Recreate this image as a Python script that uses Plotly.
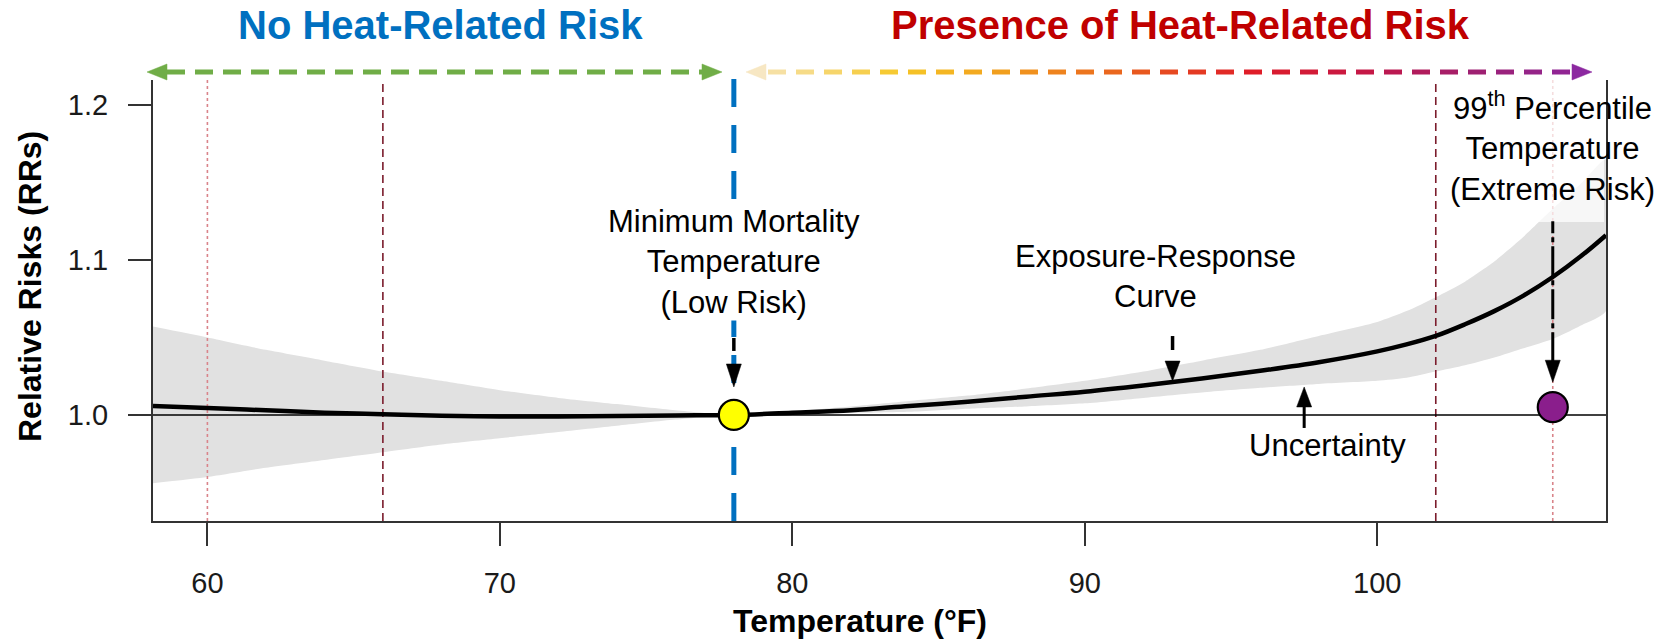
import plotly.graph_objects as go
import numpy as np

# ---------------- data ----------------
temperature = [58.14, 60, 62, 64, 66, 68, 70, 72, 74, 76, 78, 80, 82, 84, 86, 88, 90, 92, 94, 96,
               98, 100, 101, 102, 103, 104, 105, 106, 107, 107.82]
rr = [1.0058, 1.0045, 1.003, 1.0015, 1.0005, 0.9995, 0.999, 0.999, 0.9993, 0.9997, 1.0, 1.0015,
      1.003, 1.0058, 1.0085, 1.0118, 1.015, 1.019, 1.0235, 1.0285, 1.034, 1.041, 1.0455, 1.051,
      1.0585, 1.067, 1.077, 1.089, 1.103, 1.116]
rr_low = [0.956, 0.960, 0.966, 0.971, 0.976, 0.981, 0.985, 0.989, 0.993, 0.997, 1.0, 1.0008,
          1.0012, 1.002, 1.004, 1.0055, 1.0075, 1.011, 1.0145, 1.0175, 1.020, 1.022, 1.024, 1.028,
          1.032, 1.037, 1.043, 1.049, 1.058, 1.067]
rr_high = [1.057, 1.050, 1.042, 1.035, 1.028, 1.022, 1.016, 1.011, 1.007, 1.003, 1.0, 1.0025,
           1.0055, 1.009, 1.0125, 1.017, 1.022, 1.028, 1.035, 1.042, 1.051, 1.060, 1.067, 1.076,
           1.086, 1.099, 1.115, 1.133, 1.150, 1.165]

mmt_temp, mmt_rr = 78, 1.0
p99_temp, p99_rr = 106, 1.005
exposure_arrow_temp = 93
uncertainty_arrow_temp = 97.5
pct_dotted = [60, 106]
pct_dashed = [66, 102]
x_ticks = [60, 70, 80, 90, 100]
y_ticks = [1.0, 1.1, 1.2]
y_ticktext = ["1.0", "1.1", "1.2"]
x_range = [58.14, 107.82]
y_range = [0.9316, 1.2161]

# ---------------- geometry helpers (page pixels; body has an 8px margin) ----------------
W, H = 1671, 640
OFF = 8
PL, PR, PT, PB = 153, 1606, 80, 521      # plot box in page pixels
L, T = PL - OFF, PT - OFF
R, B = W - (PR - OFF), H - (PB - OFF)
PW, PH = PR - PL, PB - PT
ppx = PW / (x_range[1] - x_range[0])
ppy = PH / (y_range[1] - y_range[0])


def xp(px):
    return (px - PL) / PW


def yp(py):
    return (PB - py) / PH


def dx(p):
    return p / ppx


def dy(p):
    return p / ppy


FONT = "Arial, Liberation Sans, sans-serif"
fig = go.Figure()

# confidence band
fig.add_trace(go.Scatter(x=temperature + temperature[::-1], y=rr_high + rr_low[::-1],
                         fill="toself", fillcolor="#e1e1e1", line=dict(width=0, shape="spline", smoothing=0.6),
                         mode="lines", hoverinfo="skip", showlegend=False))
# percentile lines
for v in pct_dotted:
    fig.add_trace(go.Scatter(x=[v, v], y=y_range, mode="lines",
                             line=dict(color="#d9848a", width=1.6, dash="dot"), showlegend=False))
for v in pct_dashed:
    fig.add_trace(go.Scatter(x=[v, v], y=y_range, mode="lines",
                             line=dict(color="#7b1c2c", width=1.6, dash="8px,5px"), showlegend=False))
# reference line
fig.add_trace(go.Scatter(x=x_range, y=[1.0, 1.0], mode="lines",
                         line=dict(color="black", width=1.4), showlegend=False))
# curve
fig.add_trace(go.Scatter(x=temperature, y=rr, mode="lines", line=dict(color="black", width=4.5),
                         line_shape="spline", showlegend=False))
# points
fig.add_trace(go.Scatter(x=[mmt_temp], y=[mmt_rr], mode="markers",
                         marker=dict(size=30, color="#ffff00", line=dict(color="black", width=2.2)),
                         showlegend=False))
fig.add_trace(go.Scatter(x=[p99_temp], y=[p99_rr], mode="markers",
                         marker=dict(size=30, color="#8a1e8c", line=dict(color="black", width=2.2)),
                         showlegend=False))

shapes = []
# blue MMT line
shapes.append(dict(type="line", xref="x", yref="paper", x0=mmt_temp, x1=mmt_temp, y0=0, y1=yp(70),
                   line=dict(color="#0070c0", width=5, dash="28px,18px"), layer="below"))
# semi-transparent box behind 99th label
shapes.append(dict(type="rect", xref="paper", yref="paper", x0=xp(1445), x1=xp(1604), y0=yp(222), y1=1.0,
                   fillcolor="rgba(255,255,255,0.72)", line=dict(width=0), layer="above"))


def tri(x, ytip, length, width, down=True):
    s = 1 if down else -1
    ybase = ytip + s * dy(length)
    hw = dx(width / 2)
    return dict(type="path", xref="x", yref="y",
                path=f"M {x - hw},{ybase} L {x + hw},{ybase} L {x},{ytip} Z",
                fillcolor="black", line=dict(color="black", width=0.5))


# MMT arrow
tip = mmt_rr + dy(28)
shapes.append(dict(type="line", xref="x", yref="y", x0=mmt_temp, x1=mmt_temp, y0=tip + dy(36), y1=tip + dy(49),
                   line=dict(color="black", width=3.5)))
shapes.append(tri(mmt_temp, tip, 23, 15))
# exposure arrow
tip = float(np.interp(exposure_arrow_temp, temperature, rr)) + dy(1)
shapes.append(dict(type="line", xref="x", yref="y", x0=exposure_arrow_temp, x1=exposure_arrow_temp,
                   y0=tip + dy(31), y1=tip + dy(45), line=dict(color="black", width=3.5)))
shapes.append(tri(exposure_arrow_temp, tip, 20, 15))
# uncertainty arrow (up)
tip = 1.0 + dy(28)
shapes.append(dict(type="line", xref="x", yref="y", x0=uncertainty_arrow_temp, x1=uncertainty_arrow_temp,
                   y0=1.0 - dy(13), y1=tip - dy(20), line=dict(color="black", width=3)))
shapes.append(tri(uncertainty_arrow_temp, tip, 20, 15, down=False))
# 99th arrow
tip = p99_rr + dy(25)
shapes.append(dict(type="line", xref="x", yref="y", x0=p99_temp, x1=p99_temp, y0=tip + dy(20), y1=tip + dy(161),
                   line=dict(color="black", width=3, dash="30px,4px,5px,4px")))
shapes.append(tri(p99_temp, tip, 22, 15))

# top arrows (page pixel layout)
ARW_Y = 72


def head(xtip, pointing_right, color, length=20, width=16):
    s = -1 if pointing_right else 1
    xb = xtip + s * length
    return dict(type="path", xref="paper", yref="paper",
                path=f"M {xp(xb)},{yp(ARW_Y - width / 2)} L {xp(xb)},{yp(ARW_Y + width / 2)} L {xp(xtip)},{yp(ARW_Y)} Z",
                fillcolor=color, line=dict(color=color, width=0.5))


green = "#70ad47"
shapes.append(head(147, False, green))
shapes.append(head(722, True, green))
shapes.append(dict(type="line", xref="paper", yref="paper", x0=xp(167), x1=xp(704), y0=yp(ARW_Y), y1=yp(ARW_Y),
                   line=dict(color=green, width=5, dash="18px,10px")))

stops_px = [746, 900, 1000, 1120, 1250, 1370, 1470, 1592]
stops_col = [(247, 231, 195), (246, 200, 40), (242, 160, 30), (234, 100, 30), (224, 30, 40),
             (196, 24, 72), (160, 32, 112), (140, 40, 160)]


def grad(px):
    r = int(np.interp(px, stops_px, [c[0] for c in stops_col]))
    g = int(np.interp(px, stops_px, [c[1] for c in stops_col]))
    b = int(np.interp(px, stops_px, [c[2] for c in stops_col]))
    return f"rgb({r},{g},{b})"


shapes.append(head(746, False, grad(746)))
shapes.append(head(1592, True, grad(1592)))
x = 768
while x < 1572:
    x2 = min(x + 18, 1572)
    shapes.append(dict(type="line", xref="paper", yref="paper", x0=xp(x), x1=xp(x2), y0=yp(ARW_Y), y1=yp(ARW_Y),
                       line=dict(color=grad((x + x2) / 2), width=5)))
    x += 28


def ann(text, x, y, size, color="black", xref="paper", **kw):
    d = dict(text=text, x=x, y=y, xref=xref, yref="paper", xanchor="center", yanchor="middle",
             showarrow=False, font=dict(size=size, color=color, family=FONT))
    d.update(kw)
    return d


annotations = [
    ann("<b>No Heat-Related Risk</b>", xp(440), yp(25), 40, "#0070c0"),
    ann("<b>Presence of Heat-Related Risk</b>", xp(1180), yp(25), 40, "#c00000"),
    ann("Minimum Mortality<br>Temperature<br>(Low Risk)", mmt_temp, yp(262), 31, xref="x",
        bgcolor="white", borderpad=0),
    ann("Exposure-Response<br>Curve", xp(1155), yp(276), 31),
    ann("Uncertainty", xp(1327), yp(445), 31),
    ann("99<sup>th</sup> Percentile<br>Temperature<br>(Extreme Risk)", p99_temp, yp(146), 31, xref="x"),
    ann("<b>Relative Risks (RRs)</b>", xp(30), yp(287), 32, textangle=-90),
    ann("<b>Temperature (°F)</b>", xp(860), yp(621), 32),
]

fig.update_layout(
    width=W, height=H, margin=dict(l=L, r=R, t=T, b=B),
    plot_bgcolor="white", paper_bgcolor="white",
    shapes=shapes, annotations=annotations, showlegend=False,
    xaxis=dict(range=x_range, tickvals=x_ticks, ticks="outside", ticklen=23, tickwidth=2, tickcolor="#333",
               showline=True, linecolor="#333", linewidth=2, showgrid=False, zeroline=False,
               tickfont=dict(size=29, color="#1a1a1a", family=FONT), ticklabelstandoff=12),
    yaxis=dict(range=y_range, tickvals=y_ticks, ticktext=y_ticktext, ticks="outside", ticklen=23,
               tickwidth=2, tickcolor="#333", showline=True, mirror=True, linecolor="#333", linewidth=2,
               showgrid=False, zeroline=False, tickfont=dict(size=29, color="#1a1a1a", family=FONT),
               ticklabelstandoff=14),
)

fig.write_html("out.html")
